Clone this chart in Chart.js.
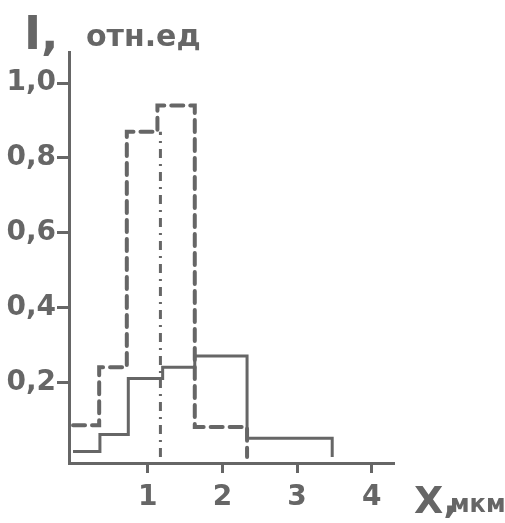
<!DOCTYPE html>
<html>
<head>
<meta charset="utf-8">
<script src="https://cdn.jsdelivr.net/npm/chart.js@4"></script>
<style>
  body { margin: 0; background: #fff; }
  #wrap { width: 505px; height: 523px; }
</style>
</head>
<body>
<div id="wrap"><canvas id="hist" width="505" height="523"></canvas></div>
<script>
// bin edges (X, мкм) and heights (I, отн.ед)
const solidEdges = [0, 0.36, 0.74, 1.20, 1.63, 2.33, 3.47];
const solidValues = [0.015, 0.06, 0.21, 0.24, 0.27, 0.05];
const dashEdges = [0, 0.35, 0.72, 1.13, 1.63, 2.33];
const dashValues = [0.085, 0.24, 0.87, 0.94, 0.08];
const markX = [1.17, 1.17];
const markY = [0, 0.87];
const xTicks = [1, 2, 3, 4];
const yTicks = [0.2, 0.4, 0.6, 0.8, 1.0];

const ink = '#666666';

function steps(edges, values) {
    const pts = values.map((v, i) => ({ x: edges[i], y: v }));
    const last = edges[edges.length - 1];
    pts.push({ x: last, y: values[values.length - 1] });
    pts.push({ x: last, y: 0 });
    return pts;
}

const axisTitles = {
    id: 'axisTitles',
    afterDraw(chart) {
        const ctx = chart.ctx;
        ctx.save();
        ctx.fillStyle = ink;
        ctx.textBaseline = 'alphabetic';
        ctx.font = 'bold 46px "DejaVu Sans"';
        ctx.fillText('I,', 24, 49);
        ctx.font = 'bold 30px "DejaVu Sans"';
        ctx.fillText('отн.ед', 86, 46);
        ctx.font = 'bold 38px "DejaVu Sans"';
        ctx.fillText('X,', 414, 513);
        ctx.font = 'bold 24px "DejaVu Sans"';
        ctx.fillText('мкм', 450, 512);
        ctx.restore();
    }
};

const hist = new Chart('hist', {
    type: 'scatter',
    data: {
        datasets: [{
            data: steps(solidEdges, solidValues),
            showLine: true,
            stepped: 'before',
            borderColor: ink,
            borderWidth: 3,
            pointRadius: 0,
            fill: false
        }, {
            data: steps(dashEdges, dashValues),
            showLine: true,
            stepped: 'before',
            borderColor: ink,
            borderWidth: 4,
            borderDash: [12, 7],
            borderCapStyle: 'round',
            pointRadius: 0,
            fill: false
        }, {
            data: markX.map((x, i) => ({ x: x, y: markY[i] })),
            showLine: true,
            borderColor: ink,
            borderWidth: 3,
            borderDash: [9, 6, 2, 6],
            pointRadius: 0,
            fill: false
        }]
    },
    options: {
        responsive: false,
        animation: false,
        layout: { padding: { top: 52, right: 112, left: 0, bottom: 0 } },
        plugins: {
            legend: { display: false },
            tooltip: { enabled: false }
        },
        scales: {
            x: {
                type: 'linear',
                min: -0.054,
                max: 4.284,
                afterFit: (s) => { s.height = 60; },
                afterBuildTicks: (s) => { s.ticks = xTicks.map(v => ({ value: v })); },
                border: { display: true, color: ink, width: 3 },
                grid: { drawOnChartArea: false, drawTicks: true, tickLength: 10, color: ink, lineWidth: 3 },
                ticks: { color: ink, font: { family: 'DejaVu Sans', size: 28, weight: 'bold' }, padding: 8, maxRotation: 0 }
            },
            y: {
                type: 'linear',
                min: -0.016,
                max: 1.083,
                afterFit: (s) => { s.width = 69; },
                afterBuildTicks: (s) => { s.ticks = yTicks.map(v => ({ value: v })); },
                border: { display: true, color: ink, width: 3 },
                grid: { drawOnChartArea: false, drawTicks: true, tickLength: 12, color: ink, lineWidth: 3 },
                ticks: {
                    color: ink,
                    font: { family: 'DejaVu Sans', size: 28, weight: 'bold' },
                    padding: 1,
                    callback: (v) => v.toFixed(1).replace('.', ',')
                }
            }
        }
    },
    plugins: [axisTitles]
});
</script>
</body>
</html>
